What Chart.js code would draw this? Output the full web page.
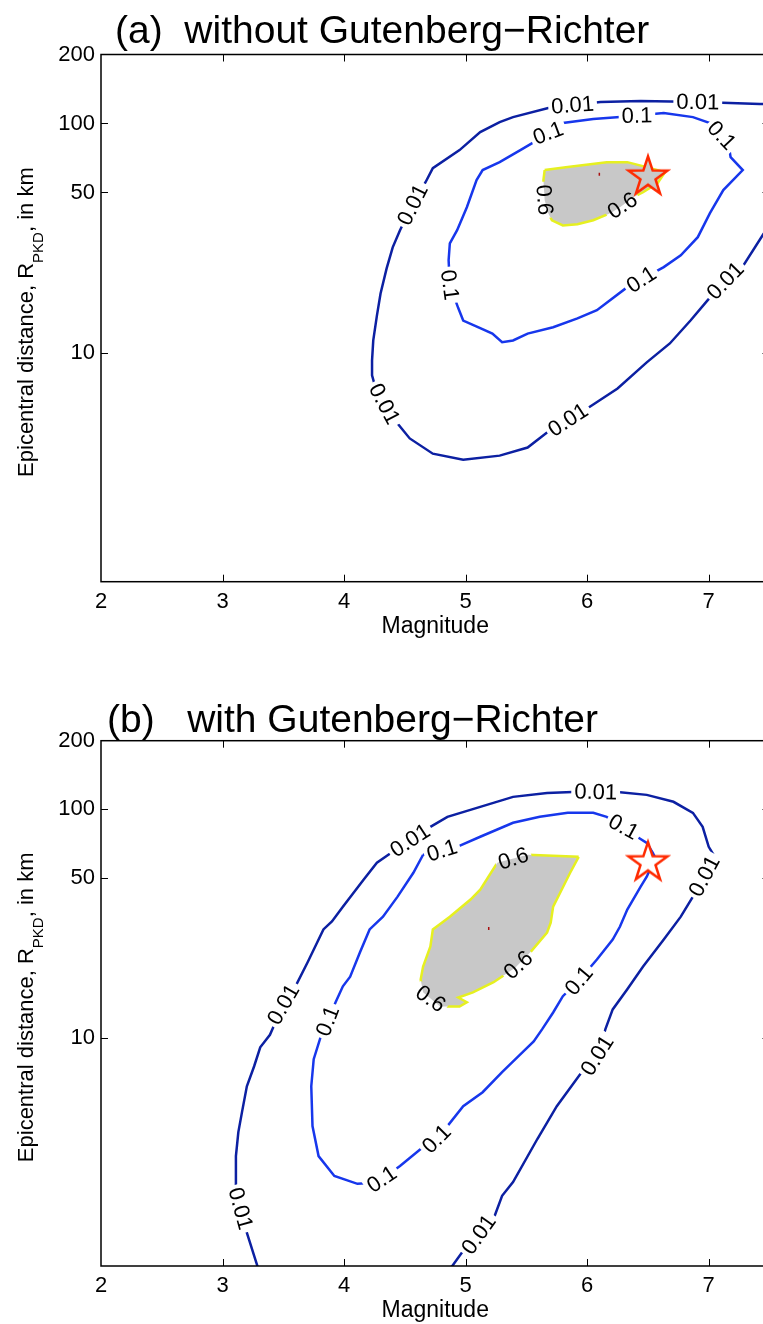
<!DOCTYPE html>
<html>
<head>
<meta charset="utf-8">
<script src="https://cdn.jsdelivr.net/npm/chart.js@4.4.1/dist/chart.umd.min.js"></script>
<style>
  html, body { margin: 0; padding: 0; background: #fff; overflow: hidden; }
  canvas { position: absolute; left: 0; }
  #panelA { top: 0; }
  #panelB { top: 680px; }
</style>
</head>
<body>
<canvas id="panelA" width="780" height="660"></canvas>
<canvas id="panelB" width="780" height="644"></canvas>
<script>
// ===============================
// Data
// ===============================
const magTicks = [2, 3, 4, 5, 6, 7];
const distTicks = [10, 50, 100, 200];

// Observed event (star)
const eventMag = 6.5;
const eventDist = 58.5;

// (a) without Gutenberg-Richter
const aMag001 = [7.55, 7.42, 6.93, 6.44, 6.11, 5.88, 5.68, 5.39, 5.28, 5.12, 4.95, 4.73, 4.67, 4.57, 4.46, 4.40, 4.35, 4.30, 4.27, 4.24, 4.23, 4.23, 4.26, 4.34, 4.44, 4.54, 4.73, 4.98, 5.28, 5.51, 5.68, 6.00, 6.25, 6.49, 6.68, 6.85, 6.99, 7.14, 7.28, 7.45, 7.55];
const aDist001 = [121.6, 121.6, 124.0, 125.2, 124.0, 120.3, 116.7, 106.6, 101.4, 91.7, 76.5, 63.8, 55.4, 44.9, 34.2, 28.8, 23.3, 18.1, 14.5, 11.3, 9.24, 7.95, 6.97, 5.88, 4.90, 4.22, 3.62, 3.41, 3.55, 3.85, 4.52, 5.70, 6.97, 9.06, 10.96, 13.8, 16.9, 20.7, 23.8, 32.9, 38.6];
const aMag01 = [5.59, 5.80, 6.05, 6.27, 6.63, 6.87, 7.01, 7.16, 7.18, 7.28, 7.12, 7.01, 6.91, 6.77, 6.63, 6.33, 6.08, 5.92, 5.72, 5.51, 5.39, 5.30, 5.22, 5.12, 4.98, 4.94, 4.87, 4.86, 4.87, 4.93, 5.01, 5.09, 5.14, 5.28, 5.45, 5.59];
const aDist01 = [84.6, 100.4, 104.5, 106.6, 111.0, 106.6, 100.4, 82.9, 71.3, 62.6, 51.2, 40.6, 31.9, 26.6, 23.6, 19.3, 15.3, 14.1, 12.9, 12.1, 11.3, 11.1, 12.1, 12.8, 13.8, 15.6, 19.7, 25.3, 30.0, 34.2, 43.1, 56.6, 62.6, 67.8, 76.5, 84.6];
const aMag06 = [5.65, 5.84, 6.16, 6.33, 6.49, 6.64, 6.58, 6.46, 6.38, 6.27, 6.19, 6.05, 5.92, 5.80, 5.71, 5.68, 5.65, 5.64, 5.65];
const aDist06 = [62.6, 64.5, 67.8, 67.8, 64.5, 61.3, 54.9, 50.1, 47.7, 43.1, 40.6, 37.8, 36.3, 35.9, 37.8, 40.6, 46.3, 56.6, 62.6];
const aPeak = [6.10, 60];
const aLabelLevel = ["0.01", "0.01", "0.01", "0.01", "0.01", "0.01", "0.1", "0.1", "0.1", "0.1", "0.1", "0.6", "0.6"];
const aLabelMag = [5.88, 6.91, 4.57, 4.31, 5.84, 7.14, 5.68, 6.41, 7.11, 6.44, 4.86, 5.62, 6.30];
const aLabelDist = [120.3, 124.0, 44.0, 5.88, 5.11, 20.5, 90.8, 107.7, 89.0, 21.1, 19.7, 46.3, 43.1];

// (b) with Gutenberg-Richter
const bMag001 = [3.32, 3.19, 3.13, 3.11, 3.11, 3.13, 3.16, 3.20, 3.26, 3.31, 3.39, 3.50, 3.60, 3.70, 3.83, 3.90, 3.99, 4.16, 4.27, 4.40, 4.71, 4.85, 5.12, 5.39, 5.67, 5.88, 6.25, 6.49, 6.71, 6.87, 6.95, 7.00, 7.04, 6.97, 6.87, 6.77, 6.63, 6.46, 6.33, 6.21, 6.15, 6.09, 5.96, 5.75, 5.59, 5.39, 5.30, 5.23, 4.98, 4.89, 4.79];
const bDist001 = [0.879, 1.454, 1.966, 2.241, 3.03, 3.86, 4.72, 6.13, 7.50, 9.08, 10.3, 14.0, 16.8, 21.4, 29.8, 32.3, 37.5, 49.2, 58.4, 65.2, 83.9, 92.8, 102.6, 113.5, 118.1, 119.3, 119.3, 115.8, 108.0, 96.6, 83.9, 68.6, 63.3, 51.8, 41.5, 33.9, 26.9, 20.5, 16.3, 13.3, 10.9, 8.46, 7.13, 5.01, 3.60, 2.33, 2.03, 1.61, 1.165, 1.00, 0.897];
const bMag01 = [4.65, 4.93, 5.12, 5.39, 5.61, 5.84, 6.05, 6.16, 6.30, 6.41, 6.49, 6.54, 6.56, 6.49, 6.44, 6.33, 6.27, 6.21, 6.08, 5.94, 5.80, 5.72, 5.63, 5.56, 5.45, 5.30, 5.14, 4.98, 4.85, 4.76, 4.65, 4.46, 4.31, 4.21, 4.11, 3.92, 3.79, 3.74, 3.73, 3.75, 3.82, 3.87, 3.93, 3.99, 4.05, 4.13, 4.21, 4.32, 4.44, 4.57, 4.65];
const bDist01 = [63.3, 68.6, 75.9, 87.4, 92.8, 96.6, 96.6, 92.8, 83.9, 75.9, 71.4, 64.6, 61.4, 50.7, 45.9, 36.4, 30.7, 26.9, 22.0, 18.0, 15.2, 12.9, 10.9, 9.64, 8.46, 7.06, 5.77, 5.01, 4.10, 3.60, 3.32, 2.74, 2.40, 2.31, 2.29, 2.48, 3.03, 4.10, 6.13, 8.05, 10.6, 12.0, 14.3, 16.8, 18.5, 23.6, 29.8, 33.9, 41.5, 52.8, 63.3];
const bMag06 = [5.93, 5.51, 5.26, 5.12, 5.04, 4.87, 4.73, 4.71, 4.65, 4.63, 4.65, 4.79, 4.95, 5.01, 4.94, 5.06, 5.23, 5.41, 5.53, 5.67, 5.70, 5.72, 5.79, 5.86, 5.93];
const bDist06 = [62.0, 63.3, 58.4, 44.5, 40.3, 33.9, 29.8, 25.1, 20.5, 18.0, 15.8, 13.7, 13.7, 14.3, 15.0, 15.8, 17.5, 20.3, 23.6, 28.9, 31.9, 37.5, 44.5, 52.8, 62.0];
const bPeak = [5.19, 30.1];
const bLabelLevel = ["0.01", "0.01", "0.01", "0.01", "0.01", "0.01", "0.01", "0.1", "0.1", "0.1", "0.1", "0.1", "0.1", "0.6", "0.6", "0.6"];
const bLabelMag = [4.54, 6.07, 6.99, 3.50, 3.14, 6.09, 5.12, 4.81, 6.30, 5.94, 4.76, 4.31, 3.87, 5.39, 5.43, 4.72];
const bLabelDist = [73.6, 119.3, 50.2, 14.0, 1.78, 8.29, 1.355, 64.6, 83.9, 17.6, 3.60, 2.40, 11.8, 61.4, 20.9, 15.0];

// ===============================
// Helpers
// ===============================
const fontFamily = '"Liberation Sans", Arial, Helvetica, sans-serif';
const lineColors = { "0.01": "#0c20a2", "0.1": "#1737ec", "0.6": "#e6f020" };
const labelFont = "22px " + fontFamily;

const toPoints = (mags, dists) => mags.map((m, i) => ({ x: m, y: dists[i] }));

function starImage(fill) {
  const c = document.createElement("canvas");
  c.width = 50;
  c.height = 50;
  const g = c.getContext("2d");
  g.beginPath();
  for (let i = 0; i < 10; i++) {
    const r = i % 2 ? 7.9 : 20.5;
    const a = -Math.PI / 2 + (i * Math.PI) / 5;
    g.lineTo(25 + r * Math.cos(a), 25 + r * Math.sin(a));
  }
  g.closePath();
  g.fillStyle = fill;
  g.fill();
  g.lineWidth = 2.5;
  g.strokeStyle = "#ff2a00";
  g.stroke();
  return c;
}

// place each inline label on its contour, turned along the line
function labelGeometry(chart, panel) {
  const { ctx, scales } = chart;
  ctx.save();
  ctx.font = labelFont;
  const boxes = panel.labels.map((lab) => {
    const px = scales.x.getPixelForValue(lab.mag);
    const py = scales.y.getPixelForValue(lab.dist);
    const line = panel.contours.find((c) => c.level === lab.level);
    const pts = line.mag.map((m, i) => [
      scales.x.getPixelForValue(m),
      scales.y.getPixelForValue(line.dist[i]),
    ]);
    let best = null;
    for (let i = 0; i < pts.length - 1; i++) {
      const [x1, y1] = pts[i];
      const [x2, y2] = pts[i + 1];
      const dx = x2 - x1, dy = y2 - y1;
      let t = ((px - x1) * dx + (py - y1) * dy) / (dx * dx + dy * dy || 1);
      t = Math.max(0, Math.min(1, t));
      const qx = x1 + t * dx, qy = y1 + t * dy;
      const d = Math.hypot(px - qx, py - qy);
      if (!best || d < best.d) best = { d, i, qx, qy };
    }
    const a = pts[Math.max(best.i - 1, 0)];
    const b = pts[Math.min(best.i + 2, pts.length - 1)];
    let ang = Math.atan2(b[1] - a[1], b[0] - a[0]);
    if (ang > Math.PI / 2) ang -= Math.PI;
    if (ang <= -Math.PI / 2) ang += Math.PI;
    return {
      text: lab.level,
      cx: best.qx,
      cy: best.qy,
      ang,
      w: ctx.measureText(lab.level).width + 6,
      h: 18,
    };
  });
  ctx.restore();
  return boxes;
}

function boxPath(ctx, g) {
  const c = Math.cos(g.ang), s = Math.sin(g.ang);
  const hw = g.w / 2, hh = g.h / 2;
  const corners = [[-hw, -hh], [hw, -hh], [hw, hh], [-hw, hh]];
  corners.forEach(([u, v], k) => {
    const X = g.cx + u * c - v * s;
    const Y = g.cy + u * s + v * c;
    k ? ctx.lineTo(X, Y) : ctx.moveTo(X, Y);
  });
  ctx.closePath();
}

function drawYTitle(ctx, cx, cy) {
  const main1 = "Epicentral distance, R";
  const sub = "PKD";
  const main2 = ", in km";
  ctx.save();
  ctx.translate(cx, cy);
  ctx.rotate(-Math.PI / 2);
  ctx.fillStyle = "#000";
  ctx.textAlign = "left";
  ctx.textBaseline = "alphabetic";
  ctx.font = "22px " + fontFamily;
  const w1 = ctx.measureText(main1).width;
  const w3 = ctx.measureText(main2).width;
  ctx.font = "15px " + fontFamily;
  const w2 = ctx.measureText(sub).width;
  const x0 = -(w1 + w2 + w3) / 2;
  ctx.font = "22px " + fontFamily;
  ctx.fillText(main1, x0, 0);
  ctx.fillText(main2, x0 + w1 + w2, 0);
  ctx.font = "15px " + fontFamily;
  ctx.fillText(sub, x0 + w1, 10);
  ctx.restore();
}

// ===============================
// Contour-panel plugin
// ===============================
const contourPlugin = {
  id: "contourPanel",
  beforeDatasetsDraw(chart) {
    chart.$labelBoxes = labelGeometry(chart, chart.config.options.panel);
  },
  beforeDatasetDraw(chart, args) {
    const ds = chart.data.datasets[args.index];
    const { ctx, chartArea: ca } = chart;
    if (ds.level) {
      // break the line where its labels sit
      ctx.save();
      ctx.beginPath();
      ctx.rect(ca.left - 5, ca.top - 5, ca.right - ca.left + 10, ca.bottom - ca.top + 10);
      chart.$labelBoxes.forEach((g) => boxPath(ctx, g));
      ctx.clip("evenodd");
    }
    if (ds.isEvent) {
      ctx.save();
      ctx.beginPath();
      ctx.rect(ca.left, ca.top, ca.right - ca.left, ca.bottom - ca.top);
      ctx.clip();
      ctx.font = labelFont;
      ctx.fillStyle = "#000";
      ctx.textAlign = "center";
      ctx.textBaseline = "middle";
      chart.$labelBoxes.forEach((g) => {
        ctx.save();
        ctx.translate(g.cx, g.cy);
        ctx.rotate(g.ang);
        ctx.fillText(g.text, 0, 1);
        ctx.restore();
      });
      ctx.restore();
    }
  },
  afterDatasetDraw(chart, args) {
    if (chart.data.datasets[args.index].level) chart.ctx.restore();
  },
  afterDraw(chart) {
    const { ctx, chartArea: ca, scales } = chart;
    const panel = chart.config.options.panel;
    ctx.save();
    // axes box with inward ticks
    ctx.strokeStyle = "#000";
    ctx.lineWidth = 1.5;
    ctx.strokeRect(ca.left, ca.top, ca.right - ca.left, ca.bottom - ca.top);
    ctx.lineWidth = 1;
    ctx.beginPath();
    magTicks.forEach((v) => {
      const px = Math.round(scales.x.getPixelForValue(v)) + 0.5;
      if (px < ca.left + 2 || px > ca.right - 2) return;
      ctx.moveTo(px, ca.bottom);
      ctx.lineTo(px, ca.bottom - 7);
      ctx.moveTo(px, ca.top);
      ctx.lineTo(px, ca.top + 7);
    });
    distTicks.forEach((v) => {
      const py = Math.round(scales.y.getPixelForValue(v)) + 0.5;
      if (py < ca.top + 2 || py > ca.bottom - 2) return;
      ctx.moveTo(ca.left, py);
      ctx.lineTo(ca.left + 7, py);
      ctx.moveTo(ca.right, py);
      ctx.lineTo(ca.right - 7, py);
    });
    ctx.stroke();

    // titles
    ctx.fillStyle = "#000";
    ctx.textBaseline = "alphabetic";
    ctx.textAlign = "left";
    ctx.font = "39px " + fontFamily;
    ctx.fillText(panel.title, panel.titleX, ca.top - panel.titleGap);
    ctx.textAlign = "center";
    ctx.font = "23px " + fontFamily;
    ctx.fillText("Magnitude", (ca.left + ca.right) / 2, ca.bottom + 51);
    ctx.restore();
    drawYTitle(ctx, 33, (ca.top + ca.bottom) / 2 + 4);
  },
};

// ===============================
// Build a panel
// ===============================
function makePanel(canvasId, panel) {
  const datasets = [
    {
      level: "0.6",
      data: toPoints(panel.contours[2].mag, panel.contours[2].dist),
      showLine: true,
      fill: "shape",
      backgroundColor: "#c8c8c8",
      borderColor: lineColors["0.6"],
      borderWidth: 2.5,
      pointRadius: 0,
      order: 4,
    },
    ...panel.contours.slice(0, 2).map((c) => ({
      level: c.level,
      data: toPoints(c.mag, c.dist),
      showLine: true,
      fill: false,
      borderColor: lineColors[c.level],
      borderWidth: 2.5,
      pointRadius: 0,
      order: 3,
    })),
    {
      data: [{ x: panel.peak[0], y: panel.peak[1] }],
      showLine: false,
      pointStyle: "line",
      rotation: 90,
      pointRadius: 1.5,
      borderColor: "#a81010",
      borderWidth: 1.5,
      order: 2,
    },
    {
      isEvent: true,
      data: [{ x: eventMag, y: eventDist }],
      showLine: false,
      pointStyle: starImage(panel.starFill),
      pointRadius: 20,
      order: 0,
    },
  ];

  const canvas = document.getElementById(canvasId);
  const tickFont = { size: 22, family: fontFamily };
  const noEdgePadding = (s) => {
    s.paddingLeft = 0;
    s.paddingRight = 0;
    s.paddingTop = 0;
    s.paddingBottom = 0;
  };

  new Chart(canvas, {
    type: "scatter",
    data: { datasets },
    options: {
      responsive: false,
      animation: false,
      devicePixelRatio: 1,
      panel,
      layout: {
        autoPadding: false,
        padding: { top: panel.padTop, right: 10.5, bottom: 0, left: 0 },
      },
      plugins: { legend: { display: false }, tooltip: { enabled: false } },
      scales: {
        x: {
          type: "linear",
          min: 2,
          max: 7.5,
          grid: { display: false, drawTicks: false },
          border: { display: false },
          afterBuildTicks: (s) => { s.ticks = magTicks.map((v) => ({ value: v })); },
          afterFit: (s) => {
            s.height = canvas.height - panel.plotBottom;
            noEdgePadding(s);
          },
          ticks: { font: tickFont, color: "#000", padding: 7, maxRotation: 0, autoSkip: false,
                   callback: (v) => String(v) },
        },
        y: {
          type: "logarithmic",
          min: 1,
          max: 200,
          grid: { display: false, drawTicks: false },
          border: { display: false },
          afterBuildTicks: (s) => { s.ticks = distTicks.map((v) => ({ value: v })); },
          afterFit: (s) => {
            s.width = 101;
            noEdgePadding(s);
          },
          ticks: { font: tickFont, color: "#000", padding: 6, autoSkip: false,
                   callback: (v) => String(v) },
        },
      },
    },
    plugins: [contourPlugin],
  });
}

const contourSet = (m001, d001, m01, d01, m06, d06) => [
  { level: "0.01", mag: m001, dist: d001 },
  { level: "0.1", mag: m01, dist: d01 },
  { level: "0.6", mag: m06, dist: d06 },
];
const labelSet = (lv, mg, ds) => lv.map((l, i) => ({ level: l, mag: mg[i], dist: ds[i] }));

makePanel("panelA", {
  title: "(a)  without Gutenberg\u2212Richter",
  titleX: 115,
  titleGap: 11.5,
  padTop: 54.5,
  plotBottom: 581.7,
  starFill: "#c8c8c8",
  peak: aPeak,
  contours: contourSet(aMag001, aDist001, aMag01, aDist01, aMag06, aDist06),
  labels: labelSet(aLabelLevel, aLabelMag, aLabelDist),
});

makePanel("panelB", {
  title: "(b)   with Gutenberg\u2212Richter",
  titleX: 107,
  titleGap: 8.7,
  padTop: 60.7,
  plotBottom: 586,
  starFill: "#ffffff",
  peak: bPeak,
  contours: contourSet(bMag001, bDist001, bMag01, bDist01, bMag06, bDist06),
  labels: labelSet(bLabelLevel, bLabelMag, bLabelDist),
});
</script>
</body>
</html>
